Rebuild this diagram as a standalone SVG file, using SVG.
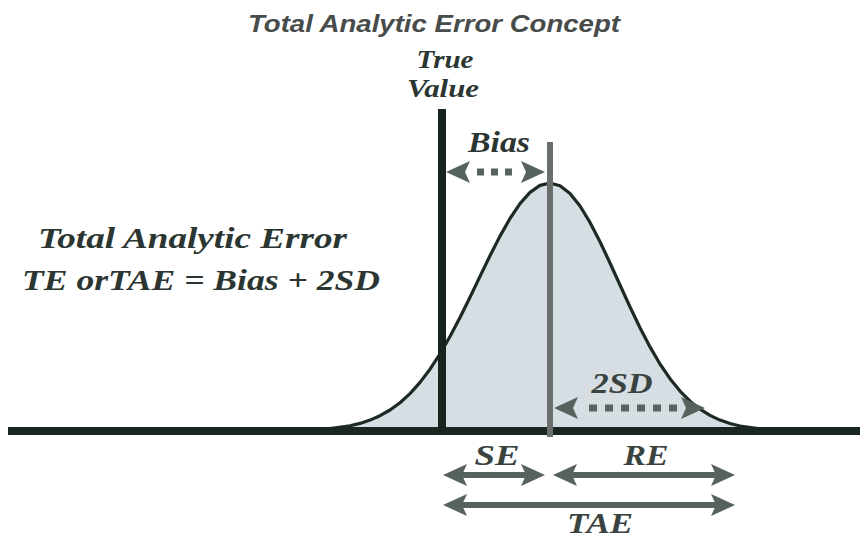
<svg xmlns="http://www.w3.org/2000/svg" xmlns:xlink="http://www.w3.org/1999/xlink" width="860" height="550" viewBox="0 0 860 550">
<style>
.ser{font-family:"Liberation Serif","Times New Roman",serif;font-weight:bold;font-style:italic;fill:#2b3531;}
.lbl{font-family:"Liberation Serif","Times New Roman",serif;font-weight:bold;font-style:italic;fill:#3a4340;font-size:29px;}
.title{font-family:"Liberation Sans",Arial,sans-serif;font-weight:bold;font-style:italic;fill:#474c4a;font-size:23px;}
.shaft{stroke:#56625e;stroke-width:6;fill:none;}
.dots{stroke:#56625e;stroke-width:7;fill:none;}
.head{fill:#56625e;}
</style>
<defs>
<path id="head" d="M0,0 L-24,-11 L-19,0 L-24,11 Z"/>
</defs>
<rect width="860" height="550" fill="#ffffff"/>

<g id="distribution">
<path fill="#d6dde3" stroke="none" d="M310,430 L330,428.7 L350,425.8 L360,423.4 L370,420.1 L380,415.7 L390,410 L400,402.7 L410,393.6 L420,382.4 L430,369.2 L440,353.8 L450,336.5 L460,317.5 L470,297.2 L480,276.4 L490,255.8 L500,236.1 L510,218.5 L520,203.6 L530,192.4 L540,185.4 L550,183 L560,185.7 L570,193.5 L580,206 L590,222.4 L600,241.7 L610,263 L620,285 L630,306.8 L640,327.7 L650,346.9 L660,364 L670,378.7 L680,391.1 L690,401.2 L700,409.2 L710,415.4 L720,420.1 L730,423.5 L740,426 L760,428.9 L780,430.2 L780,431 L310,431 Z"/>
<path fill="none" stroke="#1c2924" stroke-width="3.2" stroke-linejoin="round" d="M310,430 L330,428.7 L350,425.8 L360,423.4 L370,420.1 L380,415.7 L390,410 L400,402.7 L410,393.6 L420,382.4 L430,369.2 L440,353.8 L450,336.5 L460,317.5 L470,297.2 L480,276.4 L490,255.8 L500,236.1 L510,218.5 L520,203.6 L530,192.4 L540,185.4 L550,183 L560,185.7 L570,193.5 L580,206 L590,222.4 L600,241.7 L610,263 L620,285 L630,306.8 L640,327.7 L650,346.9 L660,364 L670,378.7 L680,391.1 L690,401.2 L700,409.2 L710,415.4 L720,420.1 L730,423.5 L740,426 L760,428.9 L780,430.2"/>
</g>

<g id="axis">
<line x1="8" y1="431" x2="860" y2="431" stroke="#1a2621" stroke-width="8"/>
</g>

<g id="true-value">
<line x1="442" y1="109" x2="442" y2="433" stroke="#17231e" stroke-width="8"/>
<text class="ser" x="445" y="68" font-size="25" text-anchor="middle" textLength="57" lengthAdjust="spacingAndGlyphs">True</text>
<text class="ser" x="443" y="97" font-size="25" text-anchor="middle" textLength="72" lengthAdjust="spacingAndGlyphs">Value</text>
</g>

<g id="mean">
<line x1="550" y1="142" x2="550" y2="437" stroke="#6a6f6d" stroke-width="6"/>
</g>

<g id="title">
<text class="title" x="434" y="32" text-anchor="middle" textLength="372" lengthAdjust="spacingAndGlyphs">Total Analytic Error Concept</text>
</g>

<g id="formula">
<text class="ser" x="38" y="248" font-size="30" textLength="309" lengthAdjust="spacingAndGlyphs">Total Analytic Error</text>
<text class="ser" x="22" y="290" font-size="30" textLength="358" lengthAdjust="spacingAndGlyphs">TE orTAE = Bias + 2SD</text>
</g>

<g id="connectors">
<g id="bias-arrow">
<line class="dots" x1="477" y1="172" x2="519" y2="172" stroke-dasharray="7 7"/>
<use xlink:href="#head" class="head" transform="translate(545,172)"/>
<use xlink:href="#head" class="head" transform="translate(446,172) rotate(180)"/>
</g>
<g id="sd-arrow">
<line class="dots" x1="589" y1="408" x2="680" y2="408" stroke-width="8" stroke-dasharray="8 8"/>
<use xlink:href="#head" class="head" transform="translate(705,408)"/>
<use xlink:href="#head" class="head" transform="translate(554,408) rotate(180)"/>
</g>
<g id="se-arrow">
<line class="shaft" x1="455" y1="475" x2="533" y2="475"/>
<use xlink:href="#head" class="head" transform="translate(545,475)"/>
<use xlink:href="#head" class="head" transform="translate(443,475) rotate(180)"/>
</g>
<g id="re-arrow">
<line class="shaft" x1="565" y1="475" x2="723" y2="475"/>
<use xlink:href="#head" class="head" transform="translate(735,475)"/>
<use xlink:href="#head" class="head" transform="translate(553,475) rotate(180)"/>
</g>
<g id="tae-arrow">
<line class="shaft" x1="455" y1="505" x2="723" y2="505"/>
<use xlink:href="#head" class="head" transform="translate(735,505)"/>
<use xlink:href="#head" class="head" transform="translate(443,505) rotate(180)"/>
</g>
</g>

<g id="labels">
<text class="ser" x="499" y="152" font-size="29" text-anchor="middle" textLength="62" lengthAdjust="spacingAndGlyphs">Bias</text>
<text class="lbl" x="622" y="393" text-anchor="middle" textLength="61" lengthAdjust="spacingAndGlyphs">2SD</text>
<text class="lbl" x="497" y="465" text-anchor="middle" textLength="45" lengthAdjust="spacingAndGlyphs">SE</text>
<text class="lbl" x="646" y="465" text-anchor="middle" textLength="45" lengthAdjust="spacingAndGlyphs">RE</text>
<text class="lbl" x="600" y="533" text-anchor="middle" textLength="66" lengthAdjust="spacingAndGlyphs">TAE</text>
</g>
</svg>
